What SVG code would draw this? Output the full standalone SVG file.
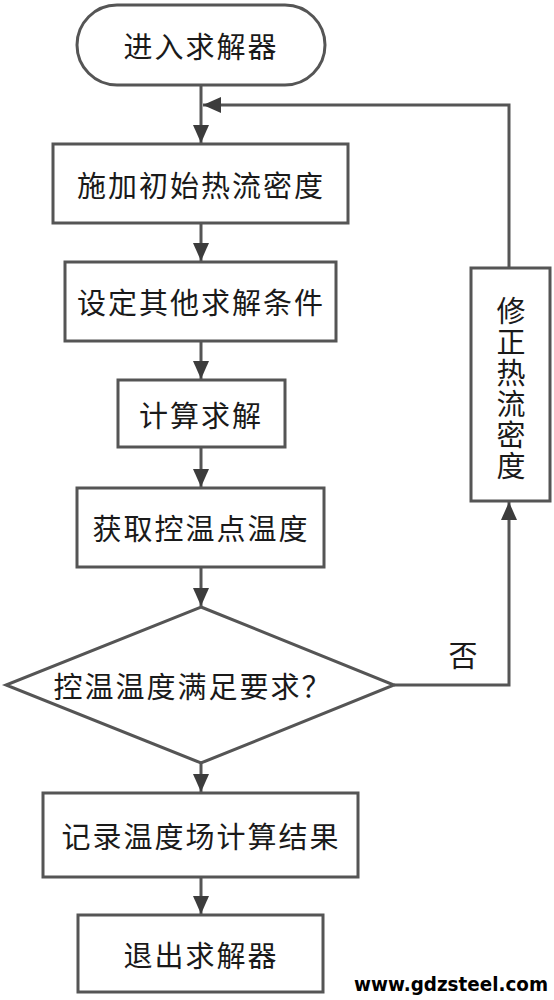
<svg xmlns="http://www.w3.org/2000/svg" width="554" height="1000" viewBox="0 0 554 1000">
<defs>
<style>
.n{fill:#fff;stroke:#555;stroke-width:3}
.t{font-family:"Noto Sans CJK SC","Noto Sans",sans-serif;font-size:29px;fill:#1a1a1a;text-anchor:middle;dominant-baseline:central;letter-spacing:2px}
.c{fill:none;stroke:#555;stroke-width:3}
</style>
<marker id="ah" viewBox="0 0 10 10" refX="10" refY="5" markerWidth="18" markerHeight="16" markerUnits="userSpaceOnUse" orient="auto" preserveAspectRatio="none">
<path d="M0,0 L10,5 L0,10 z" fill="#3c3c3c"/>
</marker>
</defs>
<rect width="554" height="1000" fill="#fff"/>
<g id="connectors">
<path class="c" d="M201,86 V143" marker-end="url(#ah)"/>
<path class="c" d="M509,268 V105 H203" marker-end="url(#ah)"/>
<path class="c" d="M201,224 V261" marker-end="url(#ah)"/>
<path class="c" d="M201,342 V379" marker-end="url(#ah)"/>
<path class="c" d="M201,448 V487" marker-end="url(#ah)"/>
<path class="c" d="M201,568 V606" marker-end="url(#ah)"/>
<path class="c" d="M394,685 H509 V502" marker-end="url(#ah)"/>
<path class="c" d="M201,763 V792" marker-end="url(#ah)"/>
<path class="c" d="M201,878 V914" marker-end="url(#ah)"/>
</g>
<g id="start">
<rect class="n" x="77" y="5" width="248" height="80" rx="40"/>
<text class="t" x="201" y="45">进入求解器</text>
</g>
<g id="apply">
<rect class="n" x="53" y="144" width="295" height="79"/>
<text class="t" x="201" y="184">施加初始热流密度</text>
</g>
<g id="set">
<rect class="n" x="65" y="262" width="271" height="79"/>
<text class="t" x="201" y="301">设定其他求解条件</text>
</g>
<g id="solve">
<rect class="n" x="118" y="380" width="167" height="67"/>
<text class="t" x="201" y="414">计算求解</text>
</g>
<g id="get">
<rect class="n" x="77" y="488" width="247" height="79"/>
<text class="t" x="201" y="527">获取控温点温度</text>
</g>
<g id="decide">
<polygon class="n" points="201,607 394,685 201,763 6,685"/>
<text class="t" x="193" y="685" letter-spacing="1">控温温度满足要求？</text>
</g>
<g id="no-label">
<text class="t" x="464" y="654">否</text>
</g>
<g id="correct">
<rect class="n" x="471" y="268" width="79" height="233"/>
<text x="511" y="389" writing-mode="vertical-rl" font-family="'Noto Sans CJK SC','Noto Sans',sans-serif" font-size="29" fill="#1a1a1a" text-anchor="middle" letter-spacing="2">修正热流密度</text>
</g>
<g id="record">
<rect class="n" x="43" y="793" width="315" height="84"/>
<text class="t" x="201" y="835">记录温度场计算结果</text>
</g>
<g id="exit">
<rect class="n" x="78" y="915" width="245" height="77"/>
<text class="t" x="201" y="954">退出求解器</text>
</g>
<text x="548" y="991" text-anchor="end" font-family="'DejaVu Sans',sans-serif" font-weight="bold" font-size="20" fill="#000" textLength="194" lengthAdjust="spacingAndGlyphs">www.gdzsteel.com</text>
</svg>
